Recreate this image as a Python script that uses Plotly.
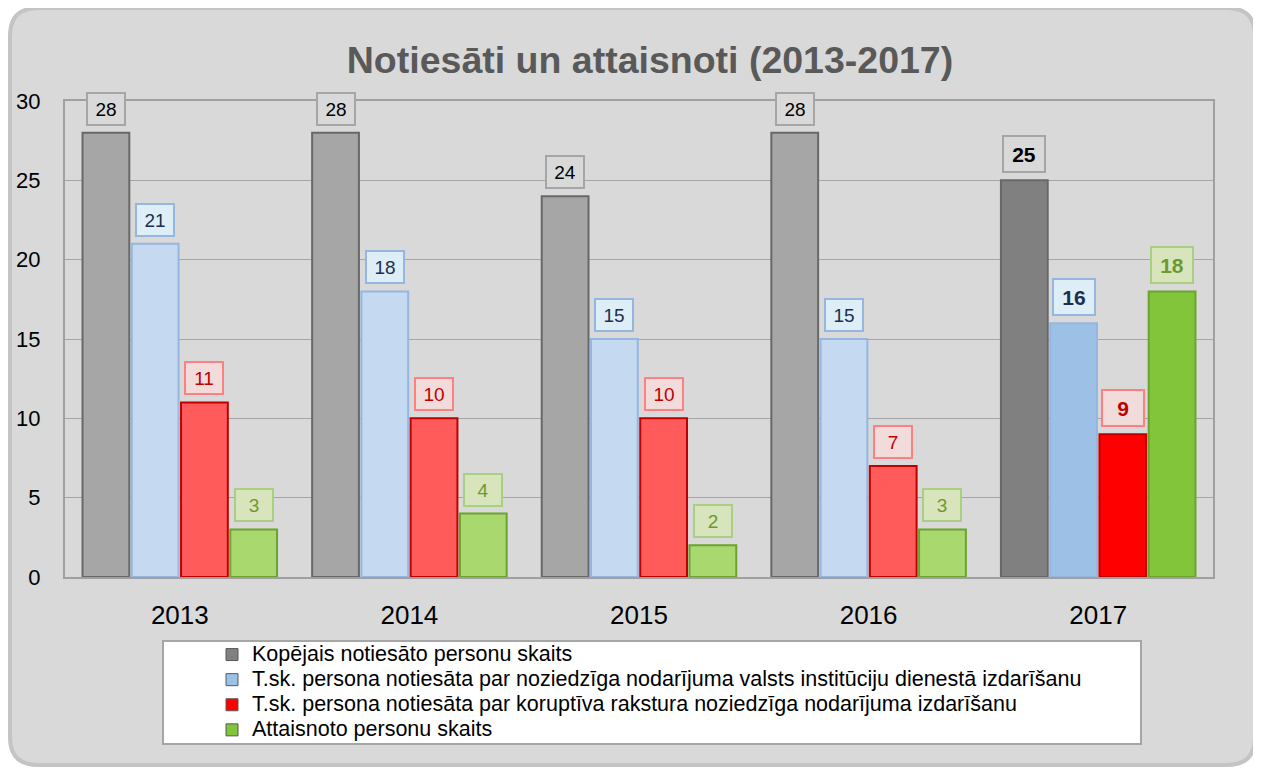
import plotly.graph_objects as go

years = ["2013", "2014", "2015", "2016", "2017"]
series_names = [
    "Kopējais notiesāto personu skaits",
    "T.sk. persona notiesāta par noziedzīga nodarījuma valsts institūciju dienestā izdarīšanu",
    "T.sk. persona notiesāta par koruptīva rakstura noziedzīga nodarījuma izdarīšanu",
    "Attaisnoto personu skaits",
]
total_convicted = [28, 28, 24, 28, 25]
state_service = [21, 18, 15, 15, 16]
corruption = [11, 10, 10, 7, 9]
acquitted = [3, 4, 2, 3, 18]
y_ticks = [0, 5, 10, 15, 20, 25, 30]

series_values = [total_convicted, state_service, corruption, acquitted]

styles = [
    dict(light="#A6A6A6", dark="#808080", line="#686868", lfill="#D9D9D9", lborder="#A6A6A6", ltext="#000000"),
    dict(light="#C5D9F1", dark="#9DC0E6", line="#95B6E0", lfill="#DDEEF7", lborder="#95B6E0", ltext="#1F2D4D"),
    dict(light="#FF5B5B", dark="#FF0000", line="#C00000", lfill="#F2DCDB", lborder="#FF8080", ltext="#C00000"),
    dict(light="#A9D86E", dark="#82C43A", line="#6AA32E", lfill="#D7E4BC", lborder="#A9CF82", ltext="#6A9A2E"),
]

FONT = "Arial, Liberation Sans, sans-serif"
BARGAP = 0.142
GROUPGAP = 0.05

# page body has an 8px margin; work in screen pixels and convert
OFF = 8
SW, SH = 1261, 769
W, H = SW - OFF, SH - OFF
SL, SR, ST, SB = 65, 1213, 101, 577  # plot area, screen px
L, R, T, B = SL - OFF, SR - OFF, ST - OFF, SB - OFF


def px_x(p):
    return (p - SL) / (SR - SL)


def px_y(p):
    return (SB - p) / (SB - ST)


fig = go.Figure()
for k, (name, vals, st) in enumerate(zip(series_names, series_values, styles)):
    colors = [st["light"]] * (len(years) - 1) + [st["dark"]]
    fig.add_trace(go.Bar(
        x=years, y=vals, name=name,
        marker=dict(color=colors, line=dict(color=st["line"], width=2)),
        showlegend=False,
    ))
for name, st in zip(series_names, styles):
    # legend entry with the series colour (on hidden overlay axes)
    fig.add_trace(go.Bar(
        x=[None], y=[None], name=f'<span style="font-size:21.5px">{name}</span>',
        xaxis="x2", yaxis="y2",
        marker=dict(color=st["dark"], line=dict(color="#595959", width=1)),
    ))

slot = (1 - BARGAP) / 4
annotations = []
for k, (vals, st) in enumerate(zip(series_values, styles)):
    for i, v in enumerate(vals):
        last = i == len(years) - 1
        annotations.append(dict(
            x=i + (k - 1.5) * slot, y=v, xref="x", yref="y",
            text=f"<b>{v}</b>" if last else str(v),
            showarrow=False, yanchor="bottom", yshift=7,
            font=dict(family=FONT, size=21 if last else 19, color=st["ltext"]),
            bgcolor=st["lfill"], bordercolor=st["lborder"], borderwidth=2,
            borderpad=3, width=34 if last else 30, height=28 if last else 24,
        ))

# rounded outer frame
x0, x1 = px_x(10), px_x(1255)
y0, y1 = px_y(765), px_y(8)
rx = 28 / (SR - SL)
ry = 28 / (SB - ST)
frame_path = (
    f"M {x0+rx},{y1} L {x1-rx},{y1} Q {x1},{y1} {x1},{y1-ry} "
    f"L {x1},{y0+ry} Q {x1},{y0} {x1-rx},{y0} L {x0+rx},{y0} "
    f"Q {x0},{y0} {x0},{y0+ry} L {x0},{y1-ry} Q {x0},{y1} {x0+rx},{y1} Z"
)
shapes = [
    dict(type="path", path=frame_path, xref="paper", yref="paper",
         fillcolor="#D9D9D9", line=dict(color="#C4C4C4", width=4), layer="below"),
    dict(type="rect", xref="paper", yref="paper",
         x0=px_x(163), x1=px_x(1141), y0=px_y(744), y1=px_y(641),
         fillcolor="#FFFFFF", line=dict(color="#A6A6A6", width=2), layer="below"),
]

fig.update_layout(
    width=W, height=H,
    margin=dict(l=L, r=W - R, t=T, b=H - B, pad=0, autoexpand=False),
    paper_bgcolor="#FFFFFF",
    plot_bgcolor="#EEEBE0",
    barmode="group", bargap=BARGAP, bargroupgap=GROUPGAP,
    font=dict(family=FONT, color="#000000"),
    title=dict(text="<b>Notiesāti un attaisnoti (2013-2017)</b>",
               x=(650 - OFF) / W, xanchor="center", y=1 - (60 - OFF) / H, yanchor="middle",
               font=dict(family=FONT, size=37.5, color="#595959")),
    xaxis=dict(showgrid=False, ticks="outside", ticklen=14, tickcolor="rgba(0,0,0,0)",
               tickfont=dict(size=26, color="#000000"), showline=True, mirror=True,
               linecolor="#A0A0A0", linewidth=2),
    yaxis=dict(range=[0, 30], tickvals=y_ticks, showgrid=True, gridcolor="#A6A6A6",
               gridwidth=1, zeroline=False, ticks="outside", ticklen=18,
               tickcolor="rgba(0,0,0,0)", tickfont=dict(size=22, color="#000000"),
               showline=True, mirror=True, linecolor="#A0A0A0", linewidth=2),
    xaxis2=dict(overlaying="x", visible=False),
    yaxis2=dict(overlaying="y", visible=False),
    legend=dict(x=px_x(212), xanchor="left", y=px_y(637), yanchor="top",
                bgcolor="rgba(0,0,0,0)", font=dict(family=FONT, size=17, color="#000000"),
                tracegroupgap=0, itemwidth=30),
    shapes=shapes,
    annotations=annotations,
)

fig.write_html("out.html")
